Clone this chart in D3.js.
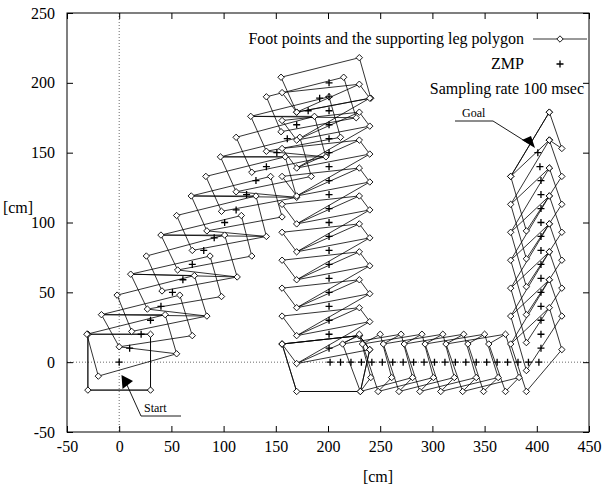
<!DOCTYPE html>
<html>
<head>
<meta charset="utf-8">
<script src="https://cdn.jsdelivr.net/npm/d3@7"></script>
<style>
body { margin: 0; background: #fff; }
text { font-family: "Liberation Serif", "Times New Roman", serif; fill: #000; }
</style>
</head>
<body>
<div id="chart"></div>
<script>
// axis ticks
var xTicks = [-50, 0, 50, 100, 150, 200, 250, 300, 350, 400, 450];
var yTicks = [-50, 0, 50, 100, 150, 200, 250];

// start: double support square
var startSquare = [[-30, 20], [30, 20], [30, -20], [-30, -20], [-30, 20]];

// diagonal walk, corners of the support polygons
var diagTL = [[-31, 20], [-17, 34], [-2, 48], [11, 63], [26, 76], [40, 91], [55, 105], [69, 119], [83, 133], [97, 147], [112, 161], [126, 176], [141, 190], [155, 204]];
var diagBL = [[-20, -10], [0, 11], [12, 22], [27, 38], [41, 51], [56, 66], [70, 80], [84, 94], [98, 108], [112, 122], [127, 136], [141, 151], [155, 165], [170, 179]];
var diagBR = [[55, 6], [70, 19], [84, 33], [98, 47], [113, 61], [127, 76], [141, 90], [156, 104], [170, 118], [184, 133], [198, 147], [212, 161], [227, 175], [241, 189]];
var diagTR = [[44, 34], [58, 48], [72, 62], [87, 76], [101, 91], [117, 105], [131, 119], [145, 133], [159, 147], [173, 161], [187, 176], [201, 190], [215, 204], [230, 218]];

// backward walk down x = 200
var vertTL = [[156, 193], [156, 173], [156, 153], [156, 133], [156, 113], [156, 93], [156, 73], [156, 53], [156, 33], [156, 13]];
var vertBL = [[170, 179], [170, 159], [170, 139], [170, 119], [170, 99], [170, 79], [170, 59], [170, 39], [170, 19], [170, -1]];
var vertBR = [[240, 189], [240, 169], [240, 149], [240, 129], [240, 109], [240, 89], [240, 69], [240, 49], [240, 29], [240, 9]];
var vertTR = [[230, 199], [230, 179], [230, 159], [230, 139], [230, 119], [230, 99], [230, 79], [230, 59], [230, 39], [230, 19]];
var turnPoly = [[156, 13], [170, -21], [231, -21], [240, 9], [230, 19], [156, 13]];

// side walk along y = 0
var hTop = [[230, 20], [250, 20], [270, 20], [290, 20], [310, 20], [330, 20], [350, 20], [370, 20]];
var hRow2 = [[214, 13], [233, 13], [253, 13], [273, 13], [293, 13], [313, 13], [334, 13], [354, 13]];
var hRow3 = [[241, -11], [261, -11], [281, -11], [301, -11], [321, -11], [342, -11], [363, -11], [383, -11]];
var hBottom = [[231, -21], [248, -21], [268, -21], [288, -21], [308, -21], [329, -21], [349, -21], [370, -21]];

// forward walk up x = 400
var rLeft = [[375, 133], [375, 113], [375, 93], [375, 73], [375, 53], [375, 33], [375, 13]];
var rInner = [[390, 94], [390, 74], [390, 54], [390, 34], [390, 14], [390, -6], [390, -21]];
var rOuter = [[424, 133], [424, 113], [424, 93], [424, 73], [424, 53], [424, 33], [424, 9]];
var rTopA = [[412, 159], [412, 139], [412, 119], [412, 99], [412, 79], [412, 59], [412, 39]];
var rTopB = [[412, 179], [412, 159], [412, 139], [412, 119], [412, 99], [412, 79], [412, 59]];
var goalPoly = [[375, 133], [412, 179], [424, 153], [412, 159]];

// ZMP samples
var zmpDiag = [[0, 0], [10, 10], [21, 20], [30, 30], [40, 40], [51, 50], [61, 59], [70, 70], [81, 80], [91, 89], [101, 100], [112, 109], [122, 120], [131, 130], [141, 140], [151, 150], [161, 160], [170, 170], [181, 180], [192, 189], [201, 200]];
var zmpVert = [[201, 190], [201, 180], [201, 170], [201, 160], [201, 150], [201, 140], [201, 130], [201, 120], [201, 110], [201, 100], [201, 90], [201, 80], [201, 70], [201, 60], [201, 50], [201, 40], [201, 30], [201, 20], [201, 10]];
var zmpSide = [[202, 0], [212, 0], [222, 0], [232, 0], [242, 0], [252, 0], [262, 0], [272, 0], [282, 0], [292, 0], [302, 0], [312, 0], [322, 0], [332, 0], [342, 0], [352, 0], [362, 0], [372, 0], [382, 0], [392, 0], [402, 0]];
var zmpUp = [[404, 10], [404, 20], [404, 30], [404, 40], [404, 50], [404, 60], [404, 70], [404, 80], [404, 90], [404, 100], [404, 110], [404, 120], [404, 130], [403, 140], [401, 150]];

var legendLabels = ["Foot points and the supporting leg polygon", "ZMP", "Sampling rate 100 msec"];

// set the dimensions and margins of the graph
var margin = { top: 13, right: 19, bottom: 61, left: 67 };
var width = 608 - margin.left - margin.right;
var height = 493 - margin.top - margin.bottom;

var svg = d3.select("#chart")
    .append("svg")
    .attr("width", 608)
    .attr("height", 493);
var g = svg.append("g")
    .attr("transform", "translate(" + margin.left + "," + margin.top + ")");

var x = d3.scaleLinear().domain([-50, 450]).range([0, width]);
var y = d3.scaleLinear().domain([-50, 250]).range([height, 0]);

// zero lines
g.append("line").attr("x1", x(0)).attr("x2", x(0)).attr("y1", 0).attr("y2", height)
    .attr("stroke", "#444").attr("stroke-width", 0.8).attr("stroke-dasharray", "1,2");
g.append("line").attr("x1", 0).attr("x2", width).attr("y1", y(0)).attr("y2", y(0))
    .attr("stroke", "#444").attr("stroke-width", 0.8).attr("stroke-dasharray", "1,2");

// axes, ticks pointing inwards; plain hyphen for negatives like the original
var plain = function (d) { return String(d); };
var xAxis = g.append("g").attr("transform", "translate(0," + height + ")")
    .call(d3.axisBottom(x).tickValues(xTicks).tickSizeInner(-6).tickSizeOuter(0).tickPadding(9).tickFormat(plain));
var xAxisTop = g.append("g")
    .call(d3.axisTop(x).tickValues(xTicks).tickSizeInner(-6).tickSizeOuter(0).tickFormat(""));
var yAxis = g.append("g")
    .call(d3.axisLeft(y).tickValues(yTicks).tickSizeInner(-6).tickSizeOuter(0).tickPadding(12).tickFormat(plain));
var yAxisRight = g.append("g").attr("transform", "translate(" + width + ",0)")
    .call(d3.axisRight(y).tickValues(yTicks).tickSizeInner(-6).tickSizeOuter(0).tickFormat(""));
[xAxis, xAxisTop, yAxis, yAxisRight].forEach(function (a) {
    a.select(".domain").remove();
    a.selectAll("line").attr("stroke", "#000");
    a.selectAll("text").style("font-family", "Liberation Serif").style("font-size", "16px");
});

g.append("rect").attr("width", width).attr("height", height)
    .attr("fill", "none").attr("stroke", "#000").attr("stroke-width", 1);

// axis labels
svg.append("text").attr("x", 378).attr("y", 482)
    .attr("text-anchor", "middle").style("font-size", "16px").text("[cm]");
svg.append("text").attr("x", 18).attr("y", 213)
    .attr("text-anchor", "middle").style("font-size", "16px").text("[cm]");

// build the support polygon paths from the corner lists
var paths = [];
diagTL.forEach(function (d, k) {
    paths.push([diagTL[k], diagBL[k], diagBR[k], diagTR[k], diagTL[k]]);
    if (k % 2 == 1 && k + 1 < diagTL.length) {
        paths.push([diagTR[k - 1], diagTL[k], diagBR[k + 1]]);
        paths.push([diagBL[k], diagBR[k - 1]]);
    }
});
vertTL.forEach(function (d, k) {
    paths.push([vertTL[k], vertBL[k], vertBR[k], vertTR[k], vertTL[k]]);
    paths.push([vertBL[k], vertTR[k]]);
    if (k > 0) paths.push([vertBL[k], vertBR[k - 1]]);
});
paths.push(turnPoly);
paths.push(turnPoly);
hTop.forEach(function (d, k) {
    paths.push([hRow2[k], hBottom[k], hRow3[k], hTop[k], hRow2[k]]);
    if (k + 2 < hTop.length) {
        paths.push([hRow2[k], hTop[k + 2]]);
        paths.push([hBottom[k], hRow3[k + 2]]);
    }
});
rLeft.forEach(function (d, k) {
    paths.push([rLeft[k], rInner[k], rOuter[k], rTopA[k], rLeft[k], rTopB[k]]);
});
paths.push(goalPoly);
paths.push(startSquare);
paths.push(startSquare);

var line = d3.line().x(function (d) { return x(d[0]); }).y(function (d) { return y(d[1]); });

g.append("g").selectAll("path")
    .data(paths)
    .enter().append("path")
    .attr("d", line)
    .attr("fill", "none")
    .attr("stroke", "#000")
    .attr("stroke-width", 0.8);

// foot points (diamonds)
var footPoints = [].concat(startSquare, diagTL, diagBL, diagBR, diagTR, vertTL, vertBL, vertBR, vertTR,
    turnPoly, hTop, hRow2, hRow3, hBottom, rLeft, rInner, rOuter, rTopA, rTopB, goalPoly);
var diamond = "M0,-3.2L3.2,0L0,3.2L-3.2,0Z";
g.append("g").selectAll("path")
    .data(footPoints)
    .enter().append("path")
    .attr("d", diamond)
    .attr("transform", function (d) { return "translate(" + x(d[0]) + "," + y(d[1]) + ")"; })
    .attr("fill", "#fff")
    .attr("stroke", "#000")
    .attr("stroke-width", 0.9);

// ZMP crosses
var zmp = [].concat(zmpDiag, zmpVert, zmpSide, zmpUp);
var cross = "M-3.5,0H3.5M0,-3.5V3.5";
g.append("g").selectAll("path")
    .data(zmp)
    .enter().append("path")
    .attr("d", cross)
    .attr("transform", function (d) { return "translate(" + x(d[0]) + "," + y(d[1]) + ")"; })
    .attr("stroke", "#000")
    .attr("stroke-width", 1.3);

// legend
var legend = svg.append("g");
legend.append("text").attr("x", 524).attr("y", 44).attr("text-anchor", "end")
    .style("font-size", "16px").text(legendLabels[0]);
legend.append("line").attr("x1", 533).attr("x2", 587).attr("y1", 39).attr("y2", 39)
    .attr("stroke", "#000").attr("stroke-width", 0.8);
legend.append("path").attr("d", diamond).attr("transform", "translate(560,39)")
    .attr("fill", "#fff").attr("stroke", "#000").attr("stroke-width", 0.9);
legend.append("text").attr("x", 524).attr("y", 69).attr("text-anchor", "end")
    .style("font-size", "16px").text(legendLabels[1]);
legend.append("path").attr("d", cross).attr("transform", "translate(560,64)")
    .attr("stroke", "#000").attr("stroke-width", 1.3);
legend.append("text").attr("x", 584).attr("y", 94).attr("text-anchor", "end")
    .style("font-size", "16px").text(legendLabels[2]);

// Start / Goal annotations
var notes = svg.append("g");
notes.append("polyline").attr("points", "127,385 141,416 181,416")
    .attr("fill", "none").attr("stroke", "#000").attr("stroke-width", 0.9);
notes.append("polygon").attr("points", "121.5,375 122.5,389 133,381").attr("fill", "#000");
notes.append("text").attr("x", 144).attr("y", 412).style("font-size", "12px").text("Start");
notes.append("polyline").attr("points", "455,121 493,121 528,143")
    .attr("fill", "none").attr("stroke", "#000").attr("stroke-width", 0.9);
notes.append("polygon").attr("points", "535,148 522,140 531,136").attr("fill", "#000");
notes.append("text").attr("x", 462).attr("y", 117).style("font-size", "12px").text("Goal");
</script>
</body>
</html>
